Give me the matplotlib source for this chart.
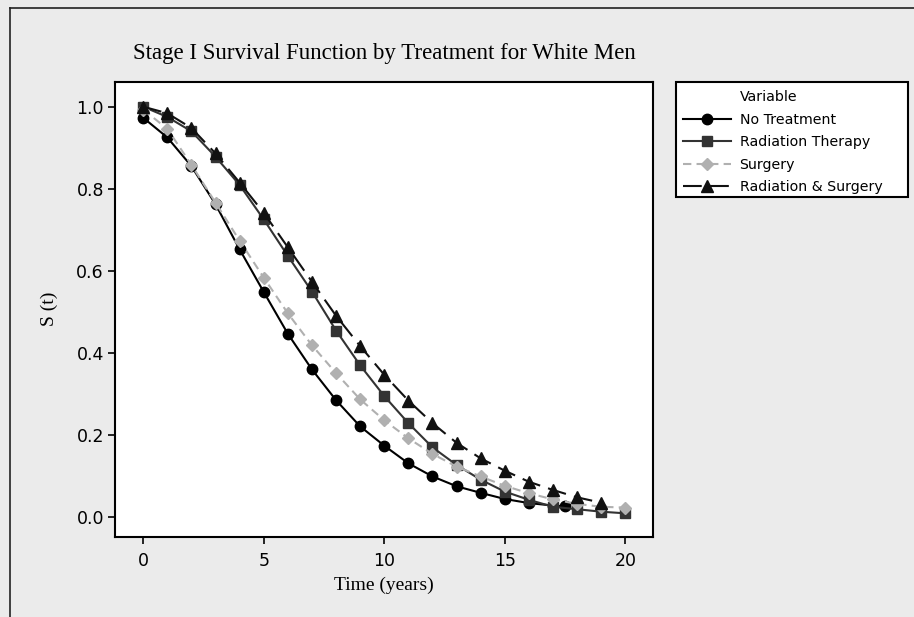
import matplotlib
matplotlib.use("Agg")
import matplotlib.pyplot as plt
from matplotlib.lines import Line2D
from matplotlib.patches import Rectangle

# values
no_treat_time = [0, 1, 2, 3, 4, 5, 6, 7, 8, 9, 10, 11, 12, 13, 14, 15, 16, 17, 17.5]
no_treat = [0.973, 0.925, 0.855, 0.762, 0.652, 0.548, 0.446, 0.359, 0.284, 0.220,
            0.173, 0.130, 0.098, 0.074, 0.058, 0.043, 0.033, 0.027, 0.025]

radiation_time = list(range(0, 21))
radiation = [1.0, 0.975, 0.940, 0.878, 0.809, 0.725, 0.636, 0.549, 0.454, 0.369,
             0.294, 0.228, 0.169, 0.126, 0.090, 0.061, 0.041, 0.024, 0.018, 0.012, 0.008]

surgery_time = list(range(0, 21))
surgery = [0.993, 0.946, 0.858, 0.766, 0.673, 0.583, 0.496, 0.418, 0.350, 0.286,
           0.235, 0.191, 0.153, 0.122, 0.098, 0.075, 0.057, 0.042, 0.031, 0.024, 0.022]

rad_surg_time = list(range(0, 20))
rad_surg = [1.0, 0.984, 0.948, 0.886, 0.815, 0.741, 0.657, 0.573, 0.490, 0.416,
            0.346, 0.283, 0.228, 0.180, 0.142, 0.112, 0.085, 0.065, 0.047, 0.034]

labels = ["No Treatment", "Radiation Therapy", "Surgery", "Radiation & Surgery"]
x_ticks = [0, 5, 10, 15, 20]
y_ticks = [0.0, 0.2, 0.4, 0.6, 0.8, 1.0]

W, H = 914, 617
bg = "#ebebeb"
serif = "Liberation Serif"
sans = "DejaVu Sans"

fig = plt.figure(figsize=(W / 100, H / 100), dpi=100, facecolor=bg)
ax = fig.add_axes([115 / W, 1 - 536.7 / H, (653.3 - 115) / W, (536.7 - 81.7) / H])
ax.set_facecolor("white")

styles = [
    dict(color="black", ls="-", marker="o", ms=7.5, mfc="black", mec="black"),
    dict(color="#333333", ls="-", marker="s", ms=7, mfc="#333333", mec="#333333"),
    dict(color="#b0b0b0", ls=(0, (4, 2.5)), marker="D", ms=6.5, mfc="#b0b0b0", mec="#b0b0b0"),
    dict(color="#111111", ls=(0, (9, 4)), marker="^", ms=8.5, mfc="#111111", mec="#111111"),
]
series = [(no_treat_time, no_treat), (radiation_time, radiation),
          (surgery_time, surgery), (rad_surg_time, rad_surg)]

handles = [Line2D([], [], ls="none", marker="none")]
for (xs, ys), st, lab in zip(series, styles, labels):
    ax.plot(xs, ys, lw=1.5, **st)
    handles.append(Line2D([], [], lw=1.5, **st))

ax.set_xlim(-1.17, 21.16)
ax.set_ylim(-0.049, 1.061)
ax.set_xticks(x_ticks)
ax.set_yticks(y_ticks)
ax.set_yticklabels([f"{v:.1f}" for v in y_ticks])
for s in ax.spines.values():
    s.set_linewidth(1.5)
ax.tick_params(axis="both", direction="out", length=5, width=1.2, labelsize=12.5)
ax.tick_params(axis="x", pad=6)
ax.tick_params(axis="y", pad=3)
for t in ax.get_xticklabels() + ax.get_yticklabels():
    t.set_fontfamily(sans)

ax.set_title("Stage I Survival Function by Treatment for White Men",
             fontfamily=serif, fontsize=16.5, pad=16)
ax.set_xlabel("Time (years)", fontfamily=serif, fontsize=14, labelpad=5)
ax.set_ylabel("S (t)", fontfamily=serif, fontsize=14, labelpad=13)

# legend box drawn as its own frame, entries placed inside it
fig.add_artist(Rectangle((676 / W, 1 - 197 / H), (908 - 676) / W, (197 - 81.7) / H,
                         transform=fig.transFigure, facecolor="white",
                         edgecolor="black", lw=1.5, zorder=2))
leg = fig.legend(handles, ["Variable"] + labels, loc="upper left",
                 bbox_to_anchor=(680 / W, 1 - 87.5 / H), frameon=False,
                 prop={"family": sans, "size": 10.2}, handlelength=3.4,
                 handletextpad=0.6, labelspacing=0.6, borderpad=0.2,
                 borderaxespad=0)
leg.set_zorder(3)

# outer frame of the graph region (cut off at right and bottom)
fig.add_artist(Line2D([10 / W, 10 / W], [0, 1 - 8 / H], color="#222222", lw=1.2))
fig.add_artist(Line2D([10 / W, 1], [1 - 8 / H, 1 - 8 / H], color="#222222", lw=1.2))

fig.savefig("out.png", dpi=100, facecolor=bg)
